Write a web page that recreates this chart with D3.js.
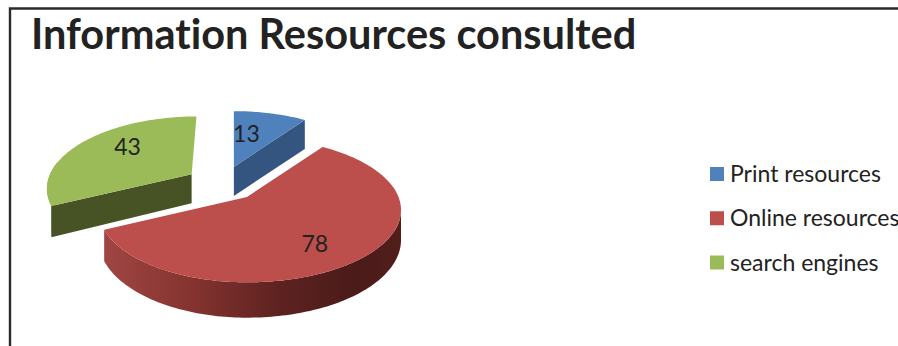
<!DOCTYPE html>
<html>
<head>
<meta charset="utf-8">
<script src="https://cdnjs.cloudflare.com/ajax/libs/d3/7.8.5/d3.min.js"></script>
<style>
  html, body { margin: 0; padding: 0; background: #fff; }
  svg { display: block; }
  text { font-family: Lato, "Open Sans", sans-serif; fill: #222; font-variant-ligatures: none; }
</style>
</head>
<body>
<svg id="chart" width="898" height="346"></svg>
<script>
const chartTitle = "Information Resources consulted";
const categories = ["Print resources", "Online resources", "search engines"];
const values = [13, 78, 43];

const topColors = ["#4f81bd", "#bc4e4b", "#9bbb59"];
const faceColors = ["#33557f", "#8a3735", "#485325"];

// Layout of the tilted pie
const centre = { x: 222.5, y: 183.6 };
const radiusRight = 151.5, radiusLeft = 146, radiusY = 70;
const perspective = 0.18, depth = 29, explode = 0.25;
// Per-slice rim size and sideways lean of the far edge
const sliceScale = [0.93, 1, 0.97];
const sliceLean = [0, 0, 5];
// Label position in slice space: radius fraction and angle shift from the slice middle
const labelPlacement = [[0.56, -0.13], [0.72, 0.115], [0.66, 0.143]];

const svg = d3.select("#chart");
const defs = svg.append("defs");

const redWall = defs.append("linearGradient").attr("id", "wall-online")
  .attr("gradientUnits", "userSpaceOnUse").attr("x1", 103).attr("x2", 401).attr("y1", 0).attr("y2", 0);
[[0, "#a04643"], [0.3, "#84332f"], [0.6, "#5c2220"], [0.85, "#4a1b19"], [1, "#521e1c"]]
  .forEach(([o, c]) => redWall.append("stop").attr("offset", o).attr("stop-color", c));

const greenWall = defs.append("linearGradient").attr("id", "wall-search")
  .attr("gradientUnits", "userSpaceOnUse").attr("x1", 46).attr("x2", 56).attr("y1", 0).attr("y2", 0);
[[0, "#a9c46e"], [1, "#6f8a38"]]
  .forEach(([o, c]) => greenWall.append("stop").attr("offset", o).attr("stop-color", c));

// Frame along the top and left edges
svg.append("path").attr("d", "M10,346V8.5H898").attr("fill", "none")
  .attr("stroke", "#2a2a2a").attr("stroke-width", 2.4);

svg.append("text").attr("x", 31).attr("y", 49)
  .attr("font-size", 41.5).attr("font-weight", 700).text(chartTitle);

const slices = d3.pie().sort(null).value(d => d)(values);
const line = d3.line();

// Slice apex after being pushed out along its middle direction
function apexOf(s) {
  const mid = (s.startAngle + s.endAngle) / 2, sx = Math.sin(mid);
  return {
    x: centre.x + explode * (sx < 0 ? radiusLeft : radiusRight) * sx,
    y: centre.y - explode * radiusY * Math.cos(mid)
  };
}

// Screen position of a point in slice i, with h measuring the drop to the lower face
function project(i, apex, angle, r, h) {
  const X = r * sliceScale[i] * Math.sin(angle), Y = r * sliceScale[i] * Math.cos(angle);
  const s = 1 / (1 + perspective * Y);
  const rx = X < 0 ? radiusLeft : radiusRight;
  return [
    apex.x + rx * X * s + sliceLean[i] * Y,
    apex.y - radiusY * Y * s + h * depth * Math.max(1, s)
  ];
}

function rim(i, apex, a0, a1, h) {
  const n = Math.max(2, Math.ceil(Math.abs(a1 - a0) / 0.02));
  return d3.range(n + 1).map(k => project(i, apex, a0 + (a1 - a0) * k / n, 1, h));
}

const wedge = (i, apex, a0, a1) => line([[apex.x, apex.y], ...rim(i, apex, a0, a1, 0)]) + "Z";
const wall = (i, apex, a0, a1) => line([...rim(i, apex, a0, a1, 0), ...rim(i, apex, a1, a0, 1)]) + "Z";
// Sliver of outer wall that tapers from the left extreme down to the lower corner of the cut
const sliver = (i, apex, a0, a1) => line([...rim(i, apex, a0, a1, 0), project(i, apex, a0, 1, 1)]) + "Z";
const cutFace = (i, apex, a) => line([
  [apex.x, apex.y], project(i, apex, a, 1, 0), project(i, apex, a, 1, 1), [apex.x, apex.y + depth]
]) + "Z";

const pieLayer = svg.append("g");
// Paint back to front: search engines, print, then the online slice in front
[2, 0, 1].forEach(i => {
  const s = slices[i], apex = apexOf(s), g = pieLayer.append("g");
  if (i === 0) {
    g.append("path").attr("d", cutFace(i, apex, s.endAngle)).attr("fill", faceColors[i]);
  } else if (i === 1) {
    g.append("path").attr("d", wall(i, apex, 1.75, s.endAngle)).attr("fill", "url(#wall-online)");
  } else {
    g.append("path").attr("d", sliver(i, apex, s.startAngle, 4.9)).attr("fill", "url(#wall-search)");
    g.append("path").attr("d", cutFace(i, apex, s.startAngle)).attr("fill", faceColors[i]);
  }
  g.append("path").attr("d", wedge(i, apex, s.startAngle, s.endAngle)).attr("fill", topColors[i]);
});

// Value labels on the upper faces
slices.forEach((s, i) => {
  const [r, shift] = labelPlacement[i];
  const mid = (s.startAngle + s.endAngle) / 2 + shift;
  const [x, y] = project(i, apexOf(s), mid, r, 0);
  svg.append("text")
    .attr("x", x).attr("y", y)
    .attr("dy", "0.35em").attr("text-anchor", "middle")
    .attr("font-size", 23).text(values[i]);
});

// Legend
const legendY = d3.scalePoint().domain(categories).range([174, 262.5]);
const legend = svg.append("g").selectAll("g").data(categories).join("g")
  .attr("transform", d => `translate(710,${legendY(d)})`);
legend.append("rect").attr("y", -7).attr("width", 14).attr("height", 14)
  .attr("fill", (d, i) => topColors[i]);
legend.append("text").attr("x", 20).attr("y", 8)
  .attr("font-size", 23).text(d => d);
</script>
</body>
</html>
